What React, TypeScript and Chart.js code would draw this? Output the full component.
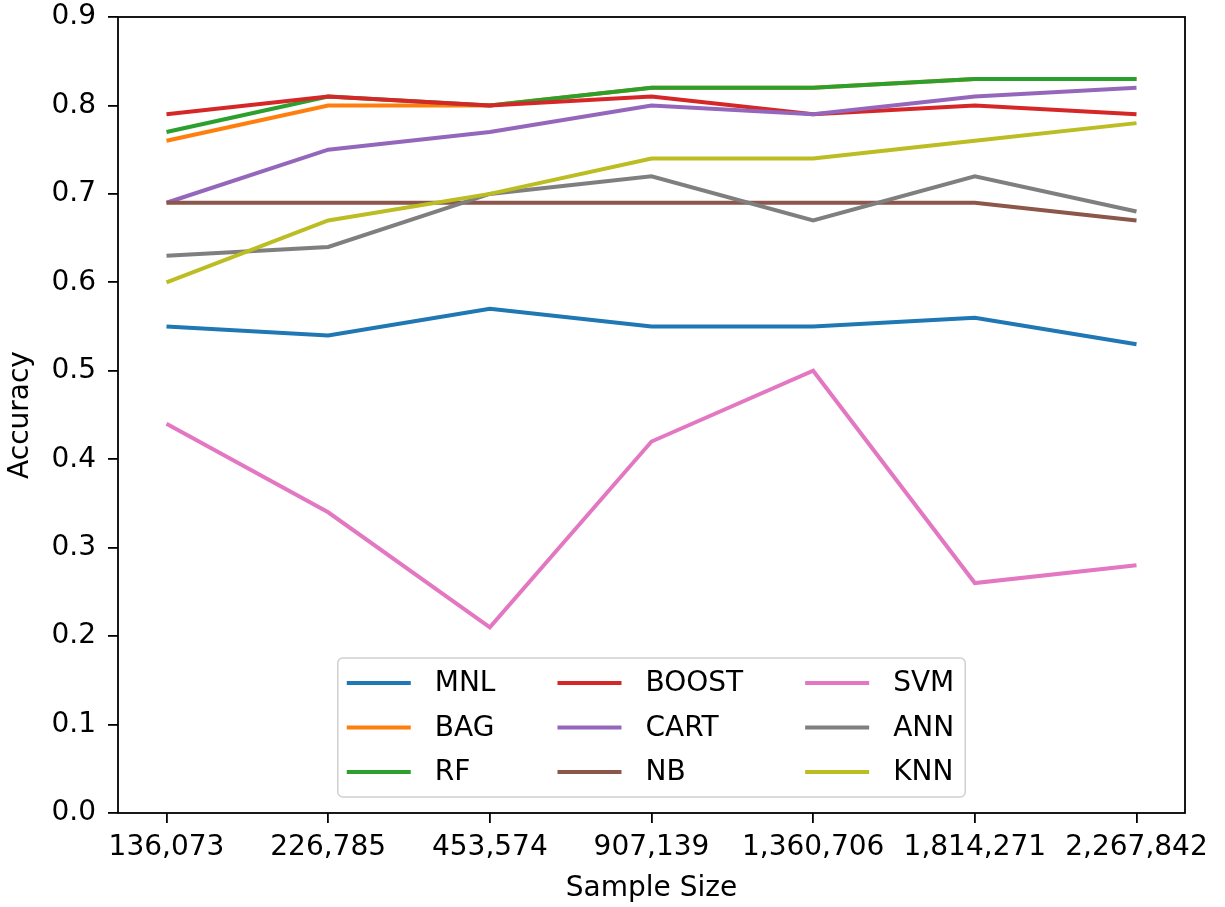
import React, { useEffect, useRef } from "react";
import { Chart, registerables } from "chart.js";

Chart.register(...registerables);

const categories = ["136,073", "226,785", "453,574", "907,139", "1,360,706", "1,814,271", "2,267,842"];
const yTickValues = [0, 0.1, 0.2, 0.3, 0.4, 0.5, 0.6, 0.7, 0.8, 0.9];

const seriesNames = ["MNL", "BAG", "RF", "BOOST", "CART", "NB", "SVM", "ANN", "KNN"];
const mnl = [0.55, 0.54, 0.57, 0.55, 0.55, 0.56, 0.53];
const bag = [0.76, 0.80, 0.80, 0.82, 0.82, 0.83, 0.83];
const rf = [0.77, 0.81, 0.80, 0.82, 0.82, 0.83, 0.83];
const boost = [0.79, 0.81, 0.80, 0.81, 0.79, 0.80, 0.79];
const cart = [0.69, 0.75, 0.77, 0.80, 0.79, 0.81, 0.82];
const nb = [0.69, 0.69, 0.69, 0.69, 0.69, 0.69, 0.67];
const svm = [0.44, 0.34, 0.21, 0.42, 0.50, 0.26, 0.28];
const ann = [0.63, 0.64, 0.70, 0.72, 0.67, 0.72, 0.68];
const knn = [0.60, 0.67, 0.70, 0.74, 0.74, 0.76, 0.78];

const seriesValues = [mnl, bag, rf, boost, cart, nb, svm, ann, knn];
const seriesColors = ["#1f77b4", "#ff7f0e", "#2ca02c", "#d62728", "#9467bd", "#8c564b", "#e377c2", "#7f7f7f", "#bcbd22"];

const FONT = "DejaVu Sans";
const FS = 28;
const LW = 4;

const framePlugin = {
  id: "frame",
  afterDatasetsDraw(chart: any) {
    const { ctx, chartArea } = chart;
    ctx.save();
    ctx.strokeStyle = "#000";
    ctx.lineWidth = 1.8;
    ctx.strokeRect(chartArea.left, chartArea.top, chartArea.right - chartArea.left, chartArea.bottom - chartArea.top);
    ctx.restore();
  },
};

const legendPlugin = {
  id: "mplLegend",
  afterDraw(chart: any) {
    const { ctx, chartArea } = chart;
    const datasets = chart.data.datasets;
    ctx.save();
    ctx.font = `${FS}px "${FONT}"`;
    const rows = 3;
    const cols = Math.ceil(datasets.length / rows);
    const handleLen = 64;
    const textPad = 24;
    const colSpacing = 62;
    const padL = 9;
    const padR = 11;
    const rowH = 44.5;
    const padV = 25;
    const colW: number[] = [];
    for (let c = 0; c < cols; c++) {
      let m = 0;
      for (let r = 0; r < rows; r++) {
        const d = datasets[c * rows + r];
        if (d) m = Math.max(m, ctx.measureText(d.label).width);
      }
      colW.push(m);
    }
    let width = padL + padR + (cols - 1) * colSpacing;
    colW.forEach((w) => (width += handleLen + textPad + w));
    const height = padV * 2 + rowH * (rows - 1);
    const cx = (chartArea.left + chartArea.right) / 2;
    const x0 = cx - width / 2;
    const y1 = chartArea.bottom - 16;
    const y0 = y1 - height;
    ctx.beginPath();
    ctx.roundRect(x0, y0, width, height, 5);
    ctx.fillStyle = "rgba(255,255,255,0.8)";
    ctx.fill();
    ctx.strokeStyle = "#d0d0d0";
    ctx.lineWidth = 1.5;
    ctx.stroke();
    let x = x0 + padL;
    for (let c = 0; c < cols; c++) {
      for (let r = 0; r < rows; r++) {
        const d = datasets[c * rows + r];
        if (!d) continue;
        const y = y0 + padV + r * rowH;
        ctx.beginPath();
        ctx.moveTo(x, y);
        ctx.lineTo(x + handleLen, y);
        ctx.strokeStyle = d.borderColor;
        ctx.lineWidth = LW;
        ctx.lineCap = "butt";
        ctx.stroke();
        ctx.fillStyle = "#000";
        ctx.textAlign = "left";
        ctx.textBaseline = "middle";
        ctx.fillText(d.label, x + handleLen + textPad, y + 1);
      }
      x += handleLen + textPad + colW[c] + colSpacing;
    }
    ctx.restore();
  },
};

export default function App() {
  const ref = useRef<HTMLCanvasElement | null>(null);
  useEffect(() => {
    if (!ref.current) return;
    const datasets = seriesNames.map((name, i) => ({
      label: name,
      data: seriesValues[i].map((v, j) => ({ x: j, y: v })),
      borderColor: seriesColors[i],
      backgroundColor: seriesColors[i],
      borderWidth: LW,
      pointRadius: 0,
      tension: 0,
      fill: false,
      order: seriesNames.length - i,
    }));
    const chart = new Chart(ref.current, {
      type: "line",
      data: { datasets },
      plugins: [framePlugin, legendPlugin],
      options: {
        animation: false,
        responsive: false,
        devicePixelRatio: 1,
        layout: { padding: { top: 17, right: 40, left: 0, bottom: 0 } },
        plugins: { legend: { display: false }, tooltip: { enabled: false } },
        scales: {
          x: {
            type: "linear",
            min: -0.3,
            max: 6.3,
            afterBuildTicks: (scale: any) => {
              scale.ticks = categories.map((_, i) => ({ value: i }));
            },
            afterFit: (scale: any) => {
              scale.height = 94;
              scale.paddingLeft = 0;
              scale.paddingRight = 0;
            },
            ticks: {
              autoSkip: false,
              maxRotation: 0,
              color: "#000",
              padding: 8,
              font: { family: FONT, size: FS },
              callback: (v: any) => categories[Math.round(Number(v))] ?? "",
            },
            grid: { drawOnChartArea: false, drawTicks: true, tickLength: 10, color: "#000", lineWidth: 1.8 },
            border: { display: false },
            title: {
              display: true,
              text: "Sample Size",
              color: "#000",
              font: { family: FONT, size: FS },
              padding: { top: 0, bottom: 1 },
            },
          },
          y: {
            type: "linear",
            min: 0,
            max: 0.9,
            afterBuildTicks: (scale: any) => {
              scale.ticks = yTickValues.map((v) => ({ value: v }));
            },
            afterFit: (scale: any) => {
              scale.width = 118;
              scale.paddingTop = 0;
              scale.paddingBottom = 0;
            },
            ticks: {
              color: "#000",
              padding: 12,
              font: { family: FONT, size: FS },
              callback: (v: any) => Number(v).toFixed(1),
            },
            grid: { drawOnChartArea: false, drawTicks: true, tickLength: 10, color: "#000", lineWidth: 1.8 },
            border: { display: false },
            title: {
              display: true,
              text: "Accuracy",
              color: "#000",
              font: { family: FONT, size: FS },
              padding: { top: 4, bottom: 0 },
            },
          },
        },
      },
    } as any);
    return () => chart.destroy();
  }, []);
  return (
    <div style={{ position: "fixed", left: 0, top: 0, width: 1225, height: 907, background: "#fff" }}>
      <canvas ref={ref} width={1225} height={907} />
    </div>
  );
}
